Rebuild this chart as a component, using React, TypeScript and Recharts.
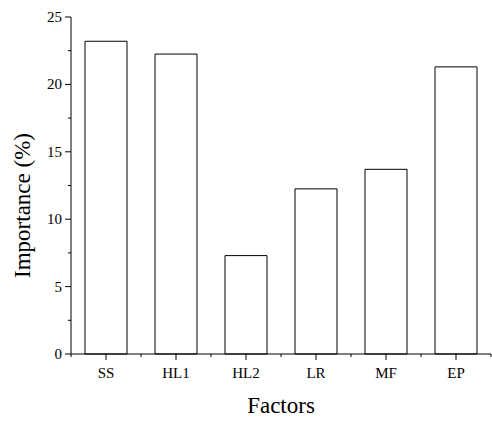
import { BarChart, Bar, XAxis, YAxis, Label } from "recharts";

const factors = ["SS", "HL1", "HL2", "LR", "MF", "EP"];
const importance = [23.2, 22.25, 7.3, 12.25, 13.7, 21.3];
const yTicks = [0, 2.5, 5, 7.5, 10, 12.5, 15, 17.5, 20, 22.5, 25];

const data = factors.map((f, i) => ({ factor: f, value: importance[i] }));

const FONT = "'Liberation Serif', 'Times New Roman', serif";

function YTick(props: any) {
  const { x, y, payload } = props;
  const major = payload.value % 5 === 0;
  return (
    <g>
      <line x1={x} x2={x - (major ? 6 : 3)} y1={y} y2={y} stroke="#000" strokeWidth={1} />
      {major && (
        <text x={x - 9} y={y} textAnchor="end" dominantBaseline="central" fontSize={15} fontFamily={FONT} fill="#000">
          {payload.value}
        </text>
      )}
    </g>
  );
}

function XTick(props: any) {
  const { x, y, payload, index, visibleTicksCount } = props;
  const half = payload.offset || 0;
  const last = index === visibleTicksCount - 1;
  return (
    <g>
      <line x1={x} x2={x} y1={y} y2={y + 6} stroke="#000" strokeWidth={1} />
      <line x1={x - half} x2={x - half} y1={y} y2={y + 3} stroke="#000" strokeWidth={1} />
      {last && <line x1={x + half} x2={x + half} y1={y} y2={y + 3} stroke="#000" strokeWidth={1} />}
      <text x={x} y={y + 13} dy="0.71em" textAnchor="middle" fontSize={15} fontFamily={FONT} fill="#000">
        {payload.value}
      </text>
    </g>
  );
}

export default function App() {
  return (
    <div style={{ position: "absolute", left: 0, top: 0, background: "#fff" }}>
      <BarChart width={492} height={425} data={data} margin={{ top: 17, right: 1, left: 0, bottom: 0 }} barCategoryGap="20%">
        <XAxis
          dataKey="factor"
          height={71}
          stroke="#000"
          tickLine={false}
          tickSize={0}
          tickMargin={0}
          interval={0}
          tick={<XTick />}
        >
          <Label
            content={(p: any) => (
              <text
                x={p.viewBox.x + p.viewBox.width / 2}
                y={p.viewBox.y + 51}
                textAnchor="middle"
                dominantBaseline="central"
                fontSize={23}
                fontFamily={FONT}
                fill="#000"
              >
                Factors
              </text>
            )}
          />
        </XAxis>
        <YAxis
          width={71}
          domain={[0, 25]}
          ticks={yTicks}
          interval={0}
          stroke="#000"
          tickLine={false}
          tickSize={0}
          tickMargin={0}
          tick={<YTick />}
        >
          <Label
            content={(p: any) => {
              const cx = 22;
              const cy = p.viewBox.y + p.viewBox.height / 2 + 20;
              return (
                <text
                  x={cx}
                  y={cy}
                  transform={`rotate(-90 ${cx} ${cy})`}
                  textAnchor="middle"
                  dominantBaseline="central"
                  fontSize={23}
                  fontFamily={FONT}
                  fill="#000"
                >
                  Importance (%)
                </text>
              );
            }}
          />
        </YAxis>
        <Bar dataKey="value" fill="#fff" stroke="#000" strokeWidth={1} isAnimationActive={false} />
      </BarChart>
    </div>
  );
}
